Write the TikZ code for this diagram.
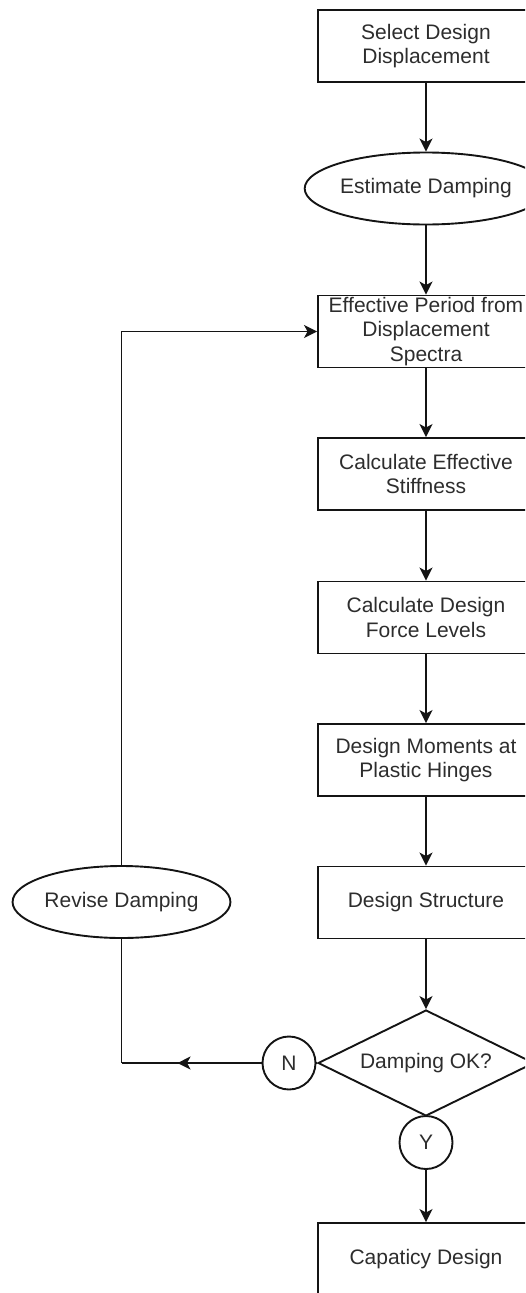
\documentclass[tikz,border=0pt]{standalone}
\usepackage{fontspec}
\setmainfont{Liberation Sans}
\usetikzlibrary{shapes.geometric,arrows.meta,decorations.markings}

\definecolor{inkline}{RGB}{20,20,20}
\definecolor{inktext}{RGB}{45,45,45}

\tikzset{
  base/.style={draw=inkline, line width=1.9pt, text=inktext, inner sep=0pt,
               align=center, font=\fontsize{21}{24.5}\selectfont},
  stepbox/.style={base, rectangle, minimum width=216pt, minimum height=72pt},
  oval/.style={base, ellipse, minimum width=216pt, minimum height=72pt},
  decide/.style={base, diamond, aspect=2, minimum width=216pt, minimum height=106pt},
  tag/.style={base, circle, minimum size=53pt},
  tip/.style={Stealth[length=13pt,width=13pt,inset=3.5pt]},
  flow/.style={draw=inkline, line width=1.9pt, -{Stealth[length=13pt,width=13pt,inset=3.5pt]}},
  plain/.style={draw=inkline, line width=1.9pt},
  midarrow/.style={postaction={decorate}, decoration={markings,
      mark=at position #1 with {\arrow{Stealth[length=13pt,width=13pt,inset=3.5pt]}}}}
}

\begin{document}
\begin{tikzpicture}[x=1pt, y=-1pt]
  \useasboundingbox (0,0) rectangle (525,1293);
  \clip (0,0) rectangle (525,1293);

  % main column
  \node[stepbox] (sel)  at (426,46)    {Select Design\\Displacement};
  \node[oval]    (est)  at (426,188.5) {Estimate Damping};
  \node[stepbox] (per)  at (426,331.5) {Effective Period from\\Displacement\\Spectra};
  \node[stepbox] (stf)  at (426,474)   {Calculate Effective\\Stiffness};
  \node[stepbox] (frc)  at (426,617.5) {Calculate Design\\Force Levels};
  \node[stepbox] (mom)  at (426,760)   {Design Moments at\\Plastic Hinges};
  \node[stepbox] (str)  at (426,902.5) {Design Structure};
  \node[decide]  (ok)   at (426,1063)  {Damping OK?};
  \node[tag]     (no)   at (289,1063)  {N};
  \node[tag]     (yes)  at (426,1142.5){Y};
  \node[stepbox] (cap)  at (426,1259)  {Capaticy Design};

  % loop-back branch
  \node[oval, minimum width=215pt] (rev) at (121.5,902) {Revise Damping};

  % forward connectors
  \draw[flow] (sel) -- (est);
  \draw[flow] (est) -- (per);
  \draw[flow] (per) -- (stf);
  \draw[flow] (stf) -- (frc);
  \draw[flow] (frc) -- (mom);
  \draw[flow] (mom) -- (str);
  \draw[flow] (str) -- (ok);
  \draw[plain] (ok.south) -- (yes.north);
  \draw[flow] (yes) -- (cap);

  % "no" branch back to the period step
  \draw[plain] (ok.west) -- (no.east);
  \coordinate (turn) at (rev.south |- no.west);
  \draw[plain, midarrow=0.6] (no.west) -- (turn);
  \draw[plain] (turn) -- (rev.south);
  \draw[flow] (rev.north) |- (per.west);
\end{tikzpicture}
\end{document}
